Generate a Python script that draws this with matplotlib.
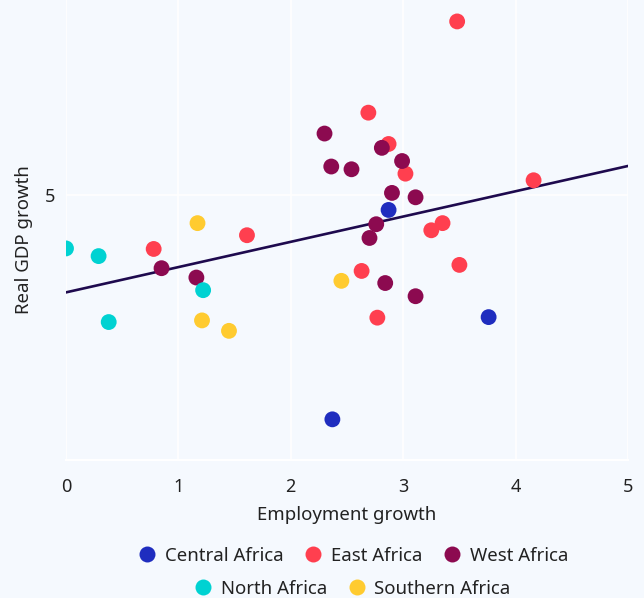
import matplotlib
matplotlib.use('Agg')
import matplotlib.pyplot as plt
from matplotlib.lines import Line2D

plt.rcParams['font.family'] = ['Noto Sans', 'DejaVu Sans']

# data
central_x = [2.87, 3.76, 2.37]
central_y = [4.72, 2.77, 0.91]

east_x = [3.48, 2.69, 2.87, 3.02, 4.16, 3.35, 3.25, 1.61, 0.78, 2.63, 3.50, 2.77]
east_y = [8.15, 6.49, 5.92, 5.38, 5.26, 4.48, 4.35, 4.26, 4.01, 3.61, 3.72, 2.76]

west_x = [2.30, 2.81, 2.99, 2.36, 2.54, 2.90, 3.11, 2.76, 2.70, 0.85, 1.16, 2.84, 3.11]
west_y = [6.11, 5.85, 5.61, 5.51, 5.46, 5.03, 4.95, 4.46, 4.21, 3.66, 3.49, 3.39, 3.15]

north_x = [0.00, 0.29, 1.22, 0.38]
north_y = [4.02, 3.88, 3.26, 2.68]

southern_x = [1.17, 2.45, 1.21, 1.45]
southern_y = [4.48, 3.43, 2.71, 2.52]

trend_x = [0, 5]
trend_y = [3.22, 5.52]

regions = ['Central Africa', 'East Africa', 'West Africa', 'North Africa', 'Southern Africa']
colors = ['#1f2dbf', '#ff3f4f', '#8c0a50', '#00d2d2', '#ffcb30']
xs = [central_x, east_x, west_x, north_x, southern_x]
ys = [central_y, east_y, west_y, north_y, southern_y]

bg = '#f5f9fe'
fig = plt.figure(figsize=(6.44, 5.98), dpi=100, facecolor=bg)
ax = fig.add_axes([66/644, 1 - 460/598, 562/644, 460/598])
ax.set_facecolor(bg)

ax.plot(trend_x, trend_y, color='#1e0a4e', lw=1.9, zorder=2)
for name, c, x, y in zip(regions, colors, xs, ys):
    ax.scatter(x, y, s=130, color=c, edgecolors='none', zorder=3, label=name)

ax.set_xlim(0, 5)
ax.set_ylim(0.17, 8.54)
ax.set_xticks([0, 1, 2, 3, 4, 5])
ax.set_yticks([5])
ax.grid(color='white', lw=1.2, zorder=0)
ax.set_axisbelow(True)
for s in ['top', 'right', 'left']:
    ax.spines[s].set_visible(False)
ax.spines['bottom'].set_color('white')
ax.spines['bottom'].set_linewidth(1.5)
ax.tick_params(length=0, labelsize=13, colors='#222222', pad=13)
ax.tick_params(axis='y', pad=8)

ax.set_xlabel('Employment growth', fontsize=13.4, color='#222222', labelpad=7)
ax.set_ylabel('Real GDP growth', fontsize=13.4, color='#222222')
ax.yaxis.set_label_coords(-0.059, 0.48)

def handles(idx):
    return [Line2D([], [], marker='o', ls='none', markersize=11.5, markerfacecolor=colors[i],
                   markeredgecolor='none', label=regions[i]) for i in idx]

leg1 = fig.legend(handles=handles([0, 1, 2]), loc='center', bbox_to_anchor=(353/644, 1 - 556/598),
                  ncol=3, frameon=False, fontsize=13.4, handletextpad=0.45, columnspacing=1.1,
                  handlelength=1.0)
leg2 = fig.legend(handles=handles([3, 4]), loc='center', bbox_to_anchor=(352/644, 1 - 589/598),
                  ncol=2, frameon=False, fontsize=13.4, handletextpad=0.45, columnspacing=1.1,
                  handlelength=1.0)
for leg in (leg1, leg2):
    for t in leg.get_texts():
        t.set_color('#222222')

fig.savefig('out.png', dpi=100, facecolor=bg)
